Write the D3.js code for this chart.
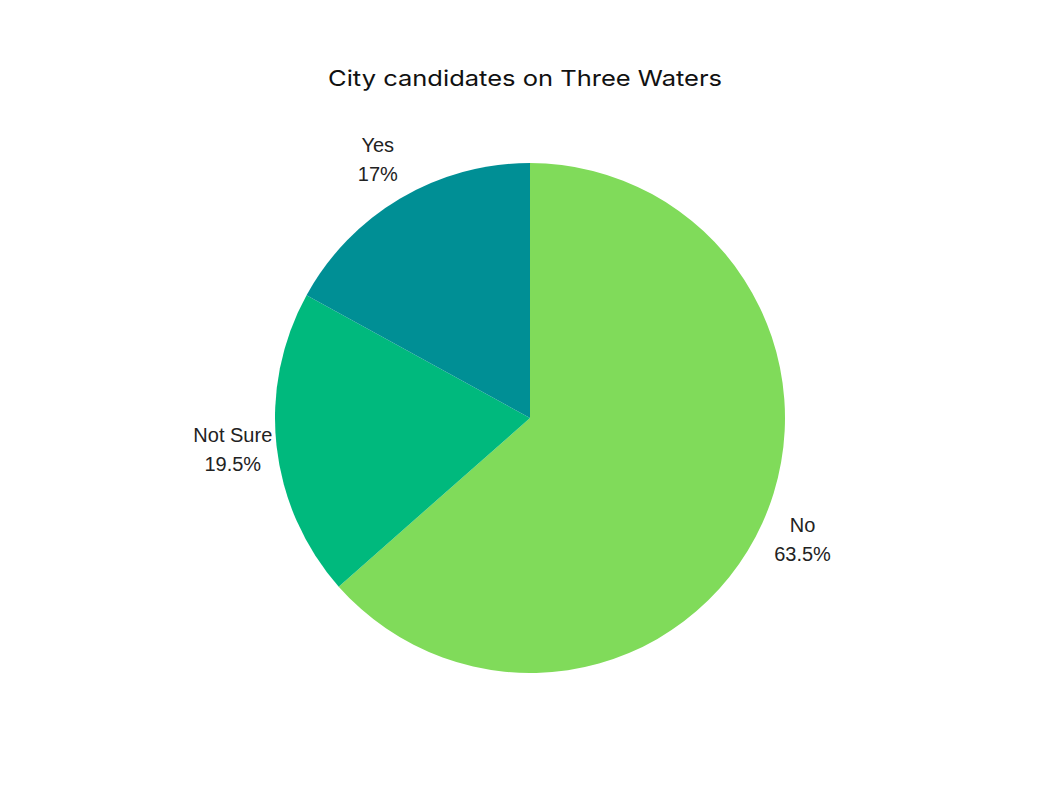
<!DOCTYPE html>
<html><head><meta charset="utf-8">
<script src="https://cdn.jsdelivr.net/npm/d3@7"></script>
<style>body{margin:0;background:#fff}svg{display:block}</style>
</head><body>
<svg id="chart" width="1050" height="788"></svg>
<script>
const title = "City candidates on Three Waters";
const categories = ["No", "Not Sure", "Yes"];
const values = [63.5, 19.5, 17];
const valueLabels = ["63.5%", "19.5%", "17%"];
const colors = ["#80DB5A", "#00B97D", "#008F95"];

const svg = d3.select("#chart");
const W = 1050, H = 788;
const cx = 530, cy = 418, R = 255, labelR = 299;
svg.append("rect").attr("width", W).attr("height", H).attr("fill", "#fff");

const t = svg.append("text").attr("x", 525).attr("y", 86)
  .attr("text-anchor", "middle")
  .attr("font-family", "Inter, 'Open Sans', sans-serif")
  .attr("font-size", 22).attr("font-weight", 400).attr("fill", "#111")
  .text(title);
t.attr("textLength", 394).attr("lengthAdjust", "spacingAndGlyphs");

const pie = d3.pie().sort(null).value(d => d)(values);
const arc = d3.arc().innerRadius(0).outerRadius(R);
const g = svg.append("g").attr("transform", `translate(${cx},${cy})`);
g.selectAll("path").data(pie).join("path")
  .attr("d", arc).attr("fill", (d, i) => colors[i]);

const labelArc = d3.arc().innerRadius(labelR).outerRadius(labelR);
const lab = g.selectAll("text.lab").data(pie).join("text").attr("class", "lab")
  .attr("text-anchor", "middle")
  .attr("font-family", "'Liberation Sans', Arial, sans-serif")
  .attr("font-size", 20).attr("fill", "#222")
  .attr("transform", d => { const c = labelArc.centroid(d); return `translate(${c[0]},${c[1]})`; });
lab.append("tspan").attr("x", 0).attr("y", -9).text((d, i) => categories[i]);
lab.append("tspan").attr("x", 0).attr("y", 20).text((d, i) => valueLabels[i]);
</script>
</body></html>
